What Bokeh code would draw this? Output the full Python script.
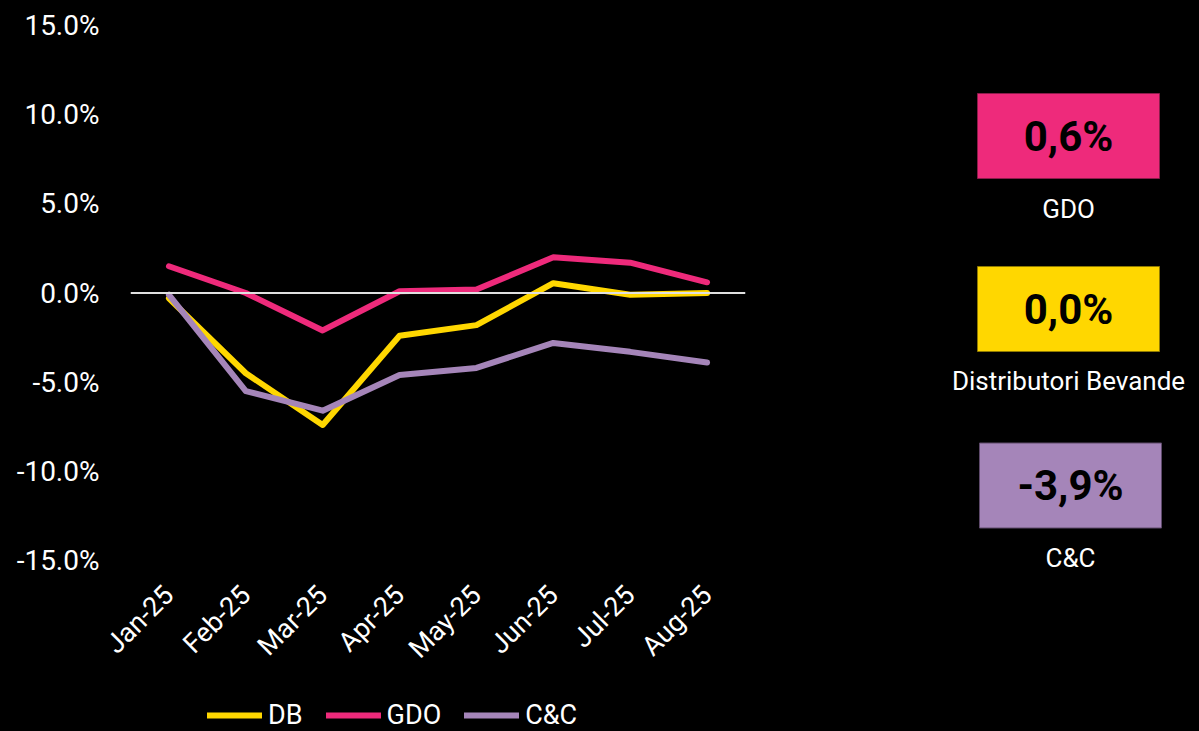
from math import pi

from bokeh.core.properties import value
from bokeh.embed import file_html
from bokeh.layouts import column, row
from bokeh.models import (FactorRange, FixedTicker, Legend, LegendItem,
                          PrintfTickFormatter, Range1d, Span)
from bokeh.plotting import figure
from bokeh.resources import INLINE

# ---- data -------------------------------------------------------------
months = ["Jan-25", "Feb-25", "Mar-25", "Apr-25", "May-25", "Jun-25", "Jul-25", "Aug-25"]
db = [-0.3, -4.5, -7.4, -2.4, -1.8, 0.55, -0.1, 0.0]
gdo = [1.5, 0.0, -2.1, 0.1, 0.2, 2.0, 1.7, 0.6]
cc = [-0.1, -5.5, -6.6, -4.6, -4.2, -2.8, -3.3, -3.9]
y_ticks = [-15, -10, -5, 0, 5, 10, 15]

legend_names = ["DB", "GDO", "C&C"]
panel_names = ["GDO", "Distributori Bevande", "C&C"]

# ---- style ------------------------------------------------------------
FONT = "Roboto"
YELLOW = "#FFD700"
PINK = "#EE2A7B"
PURPLE = "#A585B9"
BG = "black"
LINE_W = 6
series_colors = [YELLOW, PINK, PURPLE]

CHART_W, CHART_H = 760, 691
LEGEND_H = 40
PANEL_W = 439


def blank_figure(width, height, **kw):
    f = figure(width=width, height=height, output_backend="svg",
               toolbar_location=None, min_border=0,
               x_axis_location=None, y_axis_location=None,
               background_fill_color=BG, border_fill_color=BG,
               outline_line_color=None, **kw)
    f.grid.grid_line_color = None
    return f


# ---- line chart -------------------------------------------------------
p = figure(
    x_range=FactorRange(*months),
    y_range=Range1d(-15, 15),
    width=CHART_W, height=CHART_H,
    output_backend="svg", toolbar_location=None,
    min_border_left=130, min_border_right=15,
    min_border_top=25, min_border_bottom=CHART_H - 560,
    background_fill_color=BG, border_fill_color=BG,
    outline_line_color=None,
)
p.grid.grid_line_color = None

p.yaxis.ticker = FixedTicker(ticks=y_ticks)
p.yaxis.formatter = PrintfTickFormatter(format="%.1f%%")
for ax in (p.xaxis, p.yaxis):
    ax.axis_line_color = None
    ax.major_tick_line_color = None
    ax.minor_tick_line_color = None
    ax.major_label_text_color = "white"
    ax.major_label_text_font = FONT
    ax.major_label_text_font_size = "27px"
p.yaxis.major_label_text_font_size = "28px"
p.yaxis.major_label_standoff = 25
p.xaxis.major_label_orientation = pi / 4
p.xaxis.major_label_standoff = 24

p.add_layout(Span(location=0, dimension="width", line_color="#e0e0e0", line_width=1.8))

for vals, col in zip([db, gdo, cc], series_colors):
    p.line(months, vals, line_color=col, line_width=LINE_W,
           line_cap="round", line_join="round")

# ---- legend strip under the chart -------------------------------------
# key lines sit outside the visible range; only their legend swatches show
lg = blank_figure(CHART_W, LEGEND_H,
                  x_range=Range1d(0, CHART_W), y_range=Range1d(0, LEGEND_H))
key_renderers = [lg.line(x=[-20, -10], y=[-20, -20], line_color=c,
                         line_width=LINE_W, line_cap="round")
                 for c in series_colors]
legend = Legend(
    items=[LegendItem(label=n, renderers=[r]) for n, r in zip(legend_names, key_renderers)],
    location=(207, 0),
    orientation="horizontal",
    background_fill_alpha=0, border_line_color=None,
    label_text_color="white", label_text_font=FONT, label_text_font_size="27px",
    glyph_width=55, glyph_height=28, label_height=28,
    label_standoff=6, spacing=23, padding=0, margin=0,
)
lg.add_layout(legend)

# ---- summary panel (last month values) -------------------------------
q = blank_figure(PANEL_W, CHART_H + LEGEND_H,
                 x_range=Range1d(0, PANEL_W), y_range=Range1d(CHART_H + LEGEND_H, 0))

last_vals = [gdo[-1], db[-1], cc[-1]]
box_colors = [PINK, YELLOW, PURPLE]
box_edges = ["#8a1c4a", "#8f7a00", "#5e4a6b"]
box_x = [308, 308, 310]
box_y = [135.5, 308.5, 485]
label_y = [208, 380, 557]

q.rect(x=box_x, y=box_y, width=182, height=85,
       fill_color=box_colors, line_color=box_edges, line_width=1)
q.text(x=box_x, y=box_y,
       text=[f"{v:.1f}%".replace(".", ",") for v in last_vals],
       text_align="center", text_baseline="middle",
       text_font=value(FONT), text_font_style="bold",
       text_font_size="42px", text_color="black")
q.text(x=box_x, y=label_y, text=panel_names,
       text_align="center", text_baseline="middle",
       text_font=value(FONT), text_font_size="26px", text_color="white")

black = {"background-color": BG}
layout = row(column(p, row(lg, styles=black), styles=black),
             column(q, styles=black), styles=black)
open("out.html", "w").write(file_html(layout, INLINE))
